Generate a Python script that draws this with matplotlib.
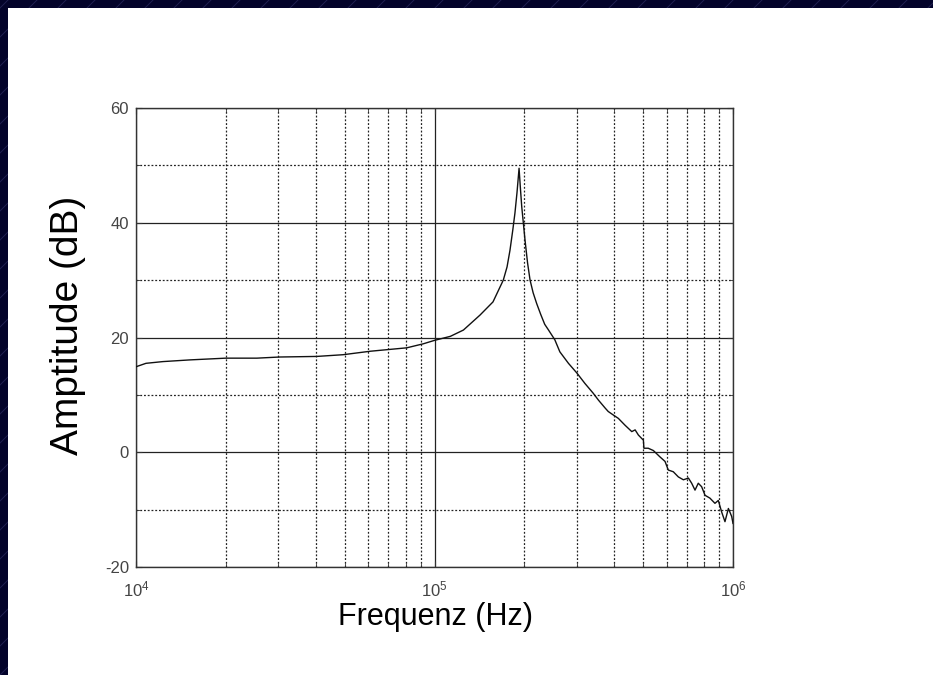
import matplotlib
matplotlib.use('Agg')
import matplotlib.pyplot as plt
from matplotlib.patches import Rectangle
from matplotlib.lines import Line2D
from matplotlib.ticker import LogLocator, NullFormatter, FixedLocator

# ---- data ----
freq_hz = [1.0e4, 1.08e4, 1.23e4, 1.52e4, 2.0e4, 2.54e4, 3.03e4, 4.03e4, 4.94e4,
           6.08e4, 8.07e4, 9.17e4, 1.0e5, 1.13e5, 1.25e5, 1.42e5, 1.57e5, 1.70e5,
           1.75e5, 1.79e5, 1.83e5, 1.86e5, 1.89e5, 1.92e5, 1.94e5, 1.96e5, 2.01e5,
           2.05e5, 2.09e5, 2.14e5, 2.20e5, 2.27e5, 2.34e5, 2.41e5,
           2.53e5, 2.63e5, 2.81e5, 3.00e5, 3.19e5, 3.40e5, 3.54e5, 3.73e5, 3.82e5,
           3.97e5, 4.13e5, 4.35e5, 4.58e5, 4.70e5, 4.82e5, 5.01e5, 5.03e5, 5.20e5,
           5.41e5, 5.69e5, 5.92e5, 6.07e5, 6.31e5, 6.56e5, 6.82e5, 7.09e5, 7.27e5,
           7.46e5, 7.65e5, 7.85e5, 8.06e5, 8.37e5, 8.70e5, 8.93e5, 9.16e5, 9.40e5,
           9.65e5, 9.90e5, 1.0e6]
amp_db = [14.9, 15.5, 15.8, 16.1, 16.4, 16.4, 16.6, 16.7, 17.0,
          17.6, 18.2, 18.9, 19.5, 20.2, 21.3, 23.9, 26.2, 30.0,
          32.3, 35.2, 38.8, 41.7, 45.3, 49.5, 46.0, 42.8, 37.0,
          33.0, 30.0, 27.8, 25.9, 24.0, 22.3, 21.3,
          19.6, 17.5, 15.5, 13.8, 12.0, 10.3, 9.1, 7.7, 7.1,
          6.5, 5.9, 4.7, 3.6, 3.9, 3.0, 2.1, 0.7, 0.7,
          0.3, -0.8, -1.6, -3.1, -3.4, -4.3, -4.8, -4.5, -5.4,
          -6.6, -5.4, -6.0, -7.5, -8.0, -8.9, -8.4, -10.4, -12.1,
          -9.8, -11.2, -12.4]

y_major = [-20, 0, 20, 40, 60]
y_minor = [-10, 10, 30, 50]
x_limits = (1e4, 1e6)
y_limits = (-20, 60)
x_label = 'Frequenz (Hz)'
y_label = 'Amptitude (dB)'

plt.rcParams['font.family'] = ['Liberation Sans', 'DejaVu Sans']
plt.rcParams['mathtext.fontset'] = 'custom'
plt.rcParams['mathtext.rm'] = 'Liberation Sans'
plt.rcParams['mathtext.it'] = 'Liberation Sans'
plt.rcParams['axes.unicode_minus'] = False

W, H = 933, 675
fig = plt.figure(figsize=(W / 100, H / 100), dpi=100)
fig.patch.set_facecolor('#03032a')

# faint diagonal texture on the dark border
for k in range(-30, 40):
    x0 = k * 29
    fig.add_artist(Line2D([x0 / W, (x0 + H) / W], [0, 1], transform=fig.transFigure,
                          color='#33336a', lw=0.7, alpha=0.6, zorder=0))
# white slide panel
fig.add_artist(Rectangle((8 / W, 0), 1, 1 - 8 / H, transform=fig.transFigure,
                         facecolor='white', edgecolor='none', zorder=1))

ax = fig.add_axes([136 / W, (H - 567) / H, 597 / W, 459 / H])
ax.set_zorder(2)
ax.set_facecolor('white')
ax.set_xscale('log')
ax.set_xlim(*x_limits)
ax.set_ylim(*y_limits)

ax.plot(freq_hz, amp_db, color='#111111', lw=1.0, zorder=3)

ax.set_yticks(y_major)
ax.yaxis.set_minor_locator(FixedLocator(y_minor))
ax.xaxis.set_major_locator(LogLocator(base=10))
ax.xaxis.set_minor_locator(LogLocator(base=10, subs=range(2, 10)))
ax.xaxis.set_minor_formatter(NullFormatter())

ax.grid(which='major', axis='both', linestyle='-', color='#222222', lw=0.9)
ax.grid(which='minor', axis='both', linestyle=(0, (1.5, 1.5)), color='#222222', lw=0.9)

ax.tick_params(which='both', direction='in', top=True, right=True,
               labelsize=12, labelcolor='#444444', color='#333333')
ax.tick_params(which='major', length=4)
ax.tick_params(axis='y', which='major', pad=5)
ax.tick_params(axis='x', which='major', pad=9)
ax.tick_params(which='minor', length=3)
for s in ax.spines.values():
    s.set_color('#333333')
    s.set_linewidth(1.0)

fig.text(435 / W, 1 - 617 / H, x_label, ha='center', va='center',
         fontsize=22, color='black')
fig.text(68 / W, 1 - 325 / H, y_label, ha='center', va='center',
         rotation=90, fontsize=28, color='black')

fig.savefig('out.png', dpi=100, facecolor=fig.get_facecolor())
